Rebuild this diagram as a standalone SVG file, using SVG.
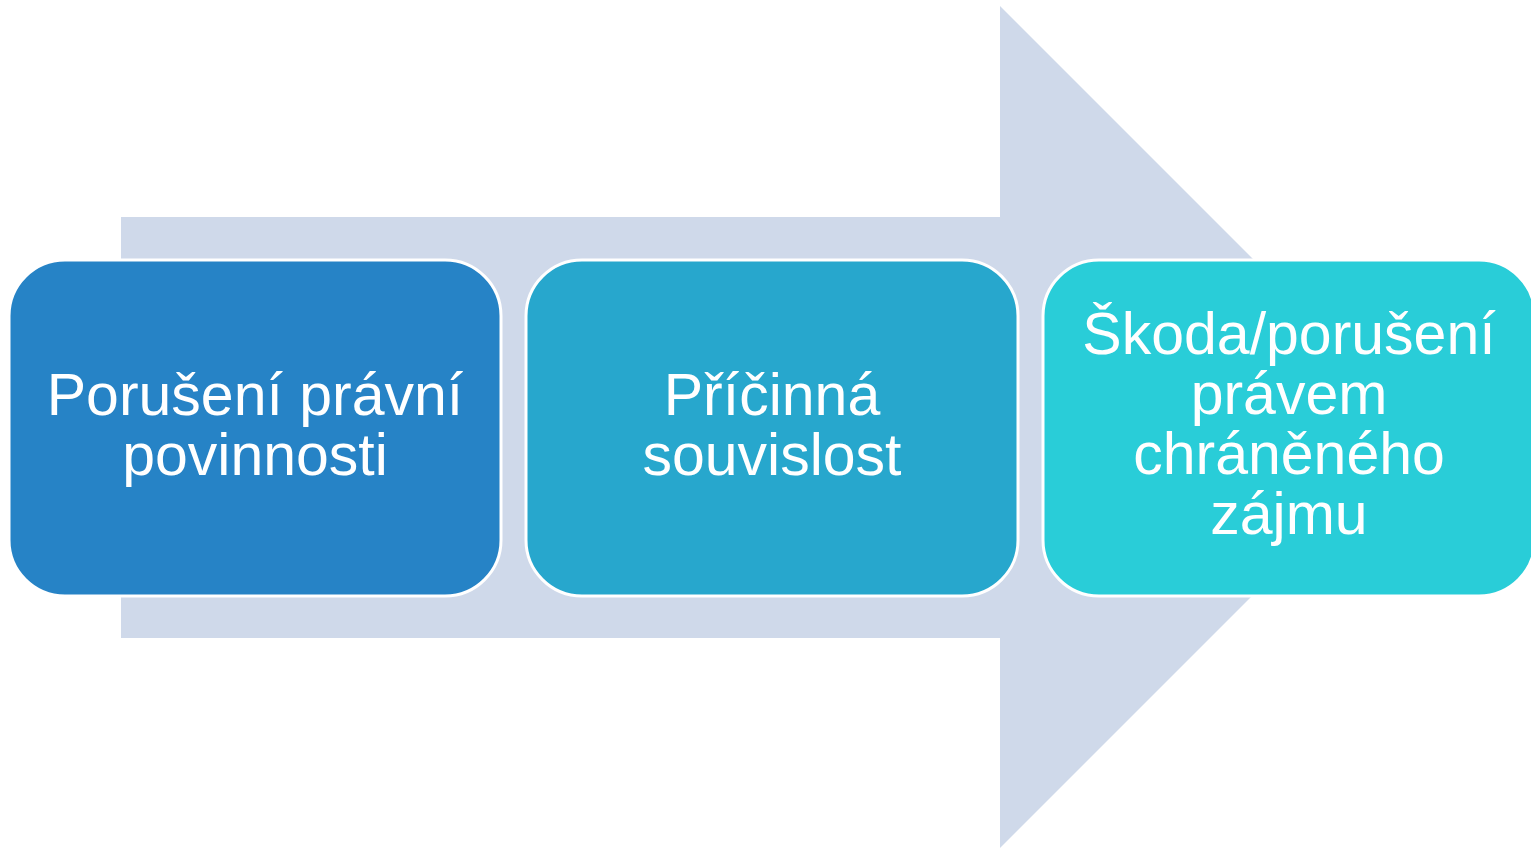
<svg xmlns="http://www.w3.org/2000/svg" width="1531" height="848" viewBox="0 0 1531 848">
<style>
.box{stroke:#FFFFFF;stroke-width:3}
.t{font-family:"Liberation Sans",Arial,sans-serif;font-size:59px;fill:#FFFFFF;text-anchor:middle}
</style>
<rect width="1531" height="848" fill="#FFFFFF"/>
<g id="connectors">
<polygon points="121,217 1000,217 1000,6 1421,427 1000,848 1000,638 121,638" fill="#CFD9EA"/>
</g>
<g id="node1">
<rect class="box" x="9" y="260" width="492" height="336" rx="56" fill="#2683C6"/>
<text class="t" x="255" y="415">Porušení právní</text>
<text class="t" x="255" y="475">povinnosti</text>
</g>
<g id="node2">
<rect class="box" x="526" y="260" width="492" height="336" rx="56" fill="#27A7CD"/>
<text class="t" x="772" y="415">Příčinná</text>
<text class="t" x="772" y="475">souvislost</text>
</g>
<g id="node3">
<rect class="box" x="1043" y="260" width="492" height="336" rx="56" fill="#29CDD8"/>
<text class="t" x="1289" y="354">Škoda/porušení</text>
<text class="t" x="1289" y="414">právem</text>
<text class="t" x="1289" y="474">chráněného</text>
<text class="t" x="1289" y="534">zájmu</text>
</g>
</svg>
